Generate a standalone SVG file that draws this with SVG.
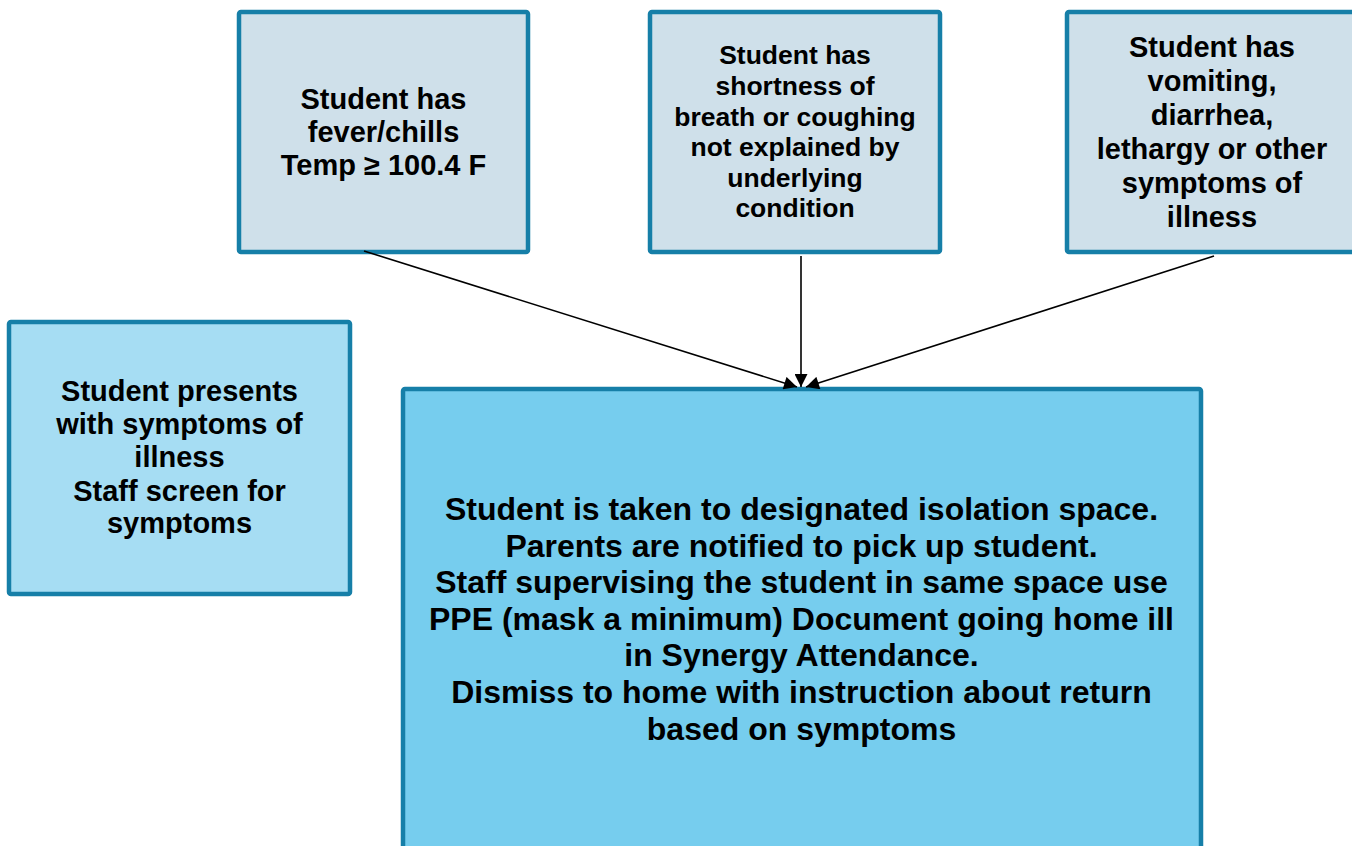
<svg xmlns="http://www.w3.org/2000/svg" width="1352" height="846" viewBox="0 0 1352 846">
<defs>
<style>
.box{stroke:#167fa8;stroke-width:4.5;}
.sym{fill:#cfe0ea;}
.start{fill:#a6ddf3;}
.main{fill:#76cdee;}
text{font-family:"Liberation Sans",Arial,sans-serif;font-weight:bold;fill:#000;text-anchor:middle;}
.conn{stroke:#000;stroke-width:1.6;fill:none;marker-end:url(#arr);}
</style>
<marker id="arr" viewBox="0 0 10 10" refX="10" refY="5" markerWidth="14" markerHeight="13" markerUnits="userSpaceOnUse" orient="auto">
<path d="M0,0 L10,5 L0,10 z" fill="#000"/>
</marker>
</defs>
<rect width="1352" height="846" fill="#fff"/>
<g id="n-fever">
<rect class="box sym" x="239" y="12" width="289" height="240" rx="2"/>
<text font-size="29" x="383.5"><tspan x="383.5" y="109">Student has</tspan><tspan x="383.5" y="142">fever/chills</tspan><tspan x="383.5" y="175">Temp ≥ 100.4 F</tspan></text>
</g>
<g id="n-breath">
<rect class="box sym" x="650" y="12" width="290" height="240" rx="2"/>
<text font-size="26.5" x="795"><tspan x="795" y="64">Student has</tspan><tspan x="795" y="95">shortness of</tspan><tspan x="795" y="125.5">breath or coughing</tspan><tspan x="795" y="156">not explained by</tspan><tspan x="795" y="186.5">underlying</tspan><tspan x="795" y="217">condition</tspan></text>
</g>
<g id="n-vomit">
<rect class="box sym" x="1067" y="12" width="290" height="240" rx="2"/>
<text font-size="29" x="1212"><tspan x="1212" y="57">Student has</tspan><tspan x="1212" y="91">vomiting,</tspan><tspan x="1212" y="125">diarrhea,</tspan><tspan x="1212" y="159">lethargy or other</tspan><tspan x="1212" y="193">symptoms of</tspan><tspan x="1212" y="227">illness</tspan></text>
</g>
<g id="n-presents">
<rect class="box start" x="9" y="322" width="341" height="272" rx="2"/>
<text font-size="29" x="179.5"><tspan x="179.5" y="401">Student presents</tspan><tspan x="179.5" y="434">with symptoms of</tspan><tspan x="179.5" y="467">illness</tspan><tspan x="179.5" y="500.5">Staff screen for</tspan><tspan x="179.5" y="533">symptoms</tspan></text>
</g>
<g id="n-isolation">
<rect class="box main" x="403" y="389" width="798" height="480" rx="2"/>
<text font-size="32" x="801.5"><tspan x="801.5" y="520">Student is taken to designated isolation space.</tspan><tspan x="801.5" y="556.6">Parents are notified to pick up student.</tspan><tspan x="801.5" y="593.2">Staff supervising the student in same space use</tspan><tspan x="801.5" y="629.8">PPE (mask a minimum) Document going home ill</tspan><tspan x="801.5" y="666.4">in Synergy Attendance.</tspan><tspan x="801.5" y="703">Dismiss to home with instruction about return</tspan><tspan x="801.5" y="739.6">based on symptoms</tspan></text>
</g>
<g id="connectors">
<line class="conn" x1="364" y1="251" x2="797" y2="387"/>
<line class="conn" x1="801" y1="256" x2="801" y2="387"/>
<line class="conn" x1="1214" y1="256" x2="806" y2="387"/>
</g>
</svg>
